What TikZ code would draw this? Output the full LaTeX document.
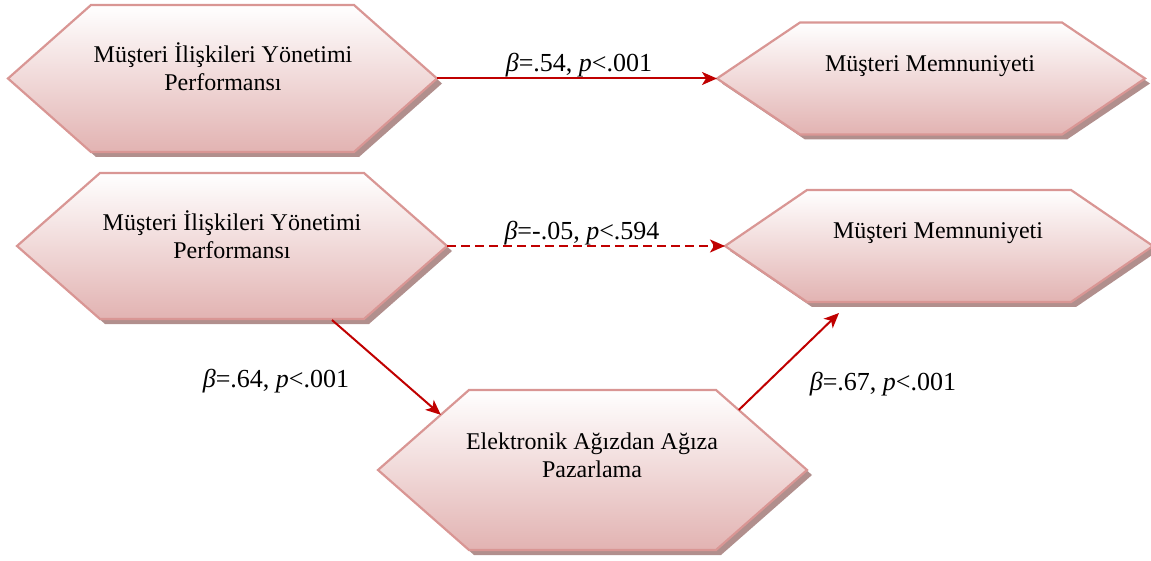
\documentclass[tikz,border=0pt]{standalone}
\usepackage{fontspec}
\setmainfont{Liberation Serif}
\usetikzlibrary{arrows.meta,calc}

\definecolor{hexborder}{HTML}{D99694}
\definecolor{hexshadow}{HTML}{B18F8D}
\definecolor{hexbottom}{HTML}{E2B3B2}
\definecolor{arrowred}{HTML}{C00000}

\tikzset{
  hexframe/.style={rectangle, inner sep=0pt, outer sep=0pt},
  hexfill/.style={top color=white, bottom color=hexbottom, draw=hexborder, line width=2.2pt, line join=miter},
  hexshade/.style={fill=hexshadow},
  hextext/.style={align=center, inner sep=0pt, text=black, font=\fontsize{24}{28}\selectfont},
  lbl/.style={inner sep=0pt, text=black, font=\fontsize{26}{30}\selectfont},
  link/.style={draw=arrowred, line width=2pt, -{Stealth[length=15pt, width=13pt, inset=4pt]}},
  dashlink/.style={link, dash pattern=on 9pt off 5pt}
}

% hexagon: name, centre x, centre y, half width, half height, inset of the corners
\newcommand{\hexagonbox}[6]{%
  \coordinate (#1-tl) at ({#2-#4+#6},{#3-#5});
  \coordinate (#1-tr) at ({#2+#4-#6},{#3-#5});
  \coordinate (#1-bl) at ({#2-#4+#6},{#3+#5});
  \coordinate (#1-br) at ({#2+#4-#6},{#3+#5});
  \fill[hexshade] ({#2-#4+5},{#3+5}) -- ({#2-#4+#6+5},{#3-#5+5}) -- ({#2+#4-#6+5},{#3-#5+5})
    -- ({#2+#4+5},{#3+5}) -- ({#2+#4-#6+5},{#3+#5+5}) -- ({#2-#4+#6+5},{#3+#5+5}) -- cycle;
  \path[hexfill] ({#2-#4},{#3}) -- (#1-tl) -- (#1-tr) -- ({#2+#4},{#3}) -- (#1-br) -- (#1-bl) -- cycle;
  \node[hexframe, minimum width={2*#4pt}, minimum height={2*#5pt}] (#1) at (#2,#3) {};
}

\begin{document}
\begin{tikzpicture}[x=1pt, y=-1pt]
\useasboundingbox (0,0) rectangle (1151,561);

% shapes
\hexagonbox{crmA}{222.5}{78.5}{214.5}{73.5}{83}
\hexagonbox{satA}{931}{78.5}{214}{56}{83}
\hexagonbox{crmB}{232}{246}{215}{73}{83}
\hexagonbox{satB}{939}{246}{214}{56}{82}
\hexagonbox{ewom}{592.5}{470}{214.5}{80}{91}

% texts inside the shapes
\node[hextext] (crmAtext) at (223,67) {Müşteri İlişkileri Yönetimi\\Performansı};
\node[hextext] (satAtext) at (930,66) {Müşteri Memnuniyeti};
\node[hextext] (crmBtext) at (232,235) {Müşteri İlişkileri Yönetimi\\Performansı};
\node[hextext] (satBtext) at (938,233) {Müşteri Memnuniyeti};
\node[hextext] (ewomtext) at (592,455) {Elektronik Ağızdan Ağıza\\Pazarlama};

% paths
\draw[link] (crmA.east) -- (satA.west);
\draw[dashlink] (crmB.east) -- (satB.west);
\draw[link] ([xshift=100pt,yshift=-1pt]crmB.south) -- ($(ewom.west)!0.69!(ewom-tl)$);
\draw[link] ($(ewom-tr)!0.25!(ewom.east)$) -- ($(satB-bl)+(32,11)$);

% coefficients
\node[lbl, anchor=base] (coefA) at (579,72) {\textit{β}=.54, \textit{p}<.001};
\node[lbl, anchor=base] (coefB) at (582,240) {\textit{β}=-.05, \textit{p}<.594};
\node[lbl, anchor=base] (coefC) at (276,387) {\textit{β}=.64, \textit{p}<.001};
\node[lbl, anchor=base] (coefD) at (883,390) {\textit{β}=.67, \textit{p}<.001};
\end{tikzpicture}
\end{document}
